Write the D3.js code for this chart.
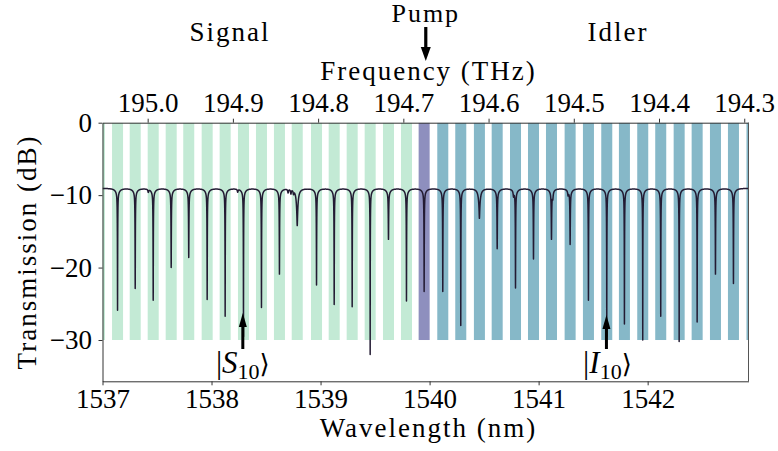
<!DOCTYPE html>
<html><head><meta charset="utf-8">
<script src="https://cdn.jsdelivr.net/npm/d3@7"></script>
<style>
body{margin:0;background:#fff}
text{font-family:"Liberation Serif","Times New Roman",serif;fill:#000}
</style>
</head><body><svg id="c" width="778" height="451"></svg>
<script>
// ---- data ----
const wavelengthDomain = [1537, 1542.925];
const frequencyDomain = [195.053, 194.295];
const transmissionDomain = [-35.7, 0];
const wavelengthTicks = [1537, 1538, 1539, 1540, 1541, 1542];
const frequencyTicks = [195.0, 194.9, 194.8, 194.7, 194.6, 194.5, 194.4, 194.3];
const transmissionTicks = [0, -10, -20, -30];

const resonanceNm = [1537.138, 1537.300, 1537.465, 1537.630, 1537.791, 1537.960, 1538.125, 1538.293,
  1538.458, 1538.623, 1538.786, 1538.963, 1539.125, 1539.290, 1539.455, 1539.623, 1539.788,
  1539.950,
  1540.121, 1540.286, 1540.457, 1540.620, 1540.788, 1540.953, 1541.118, 1541.289, 1541.457,
  1541.625, 1541.787, 1541.955, 1542.120, 1542.289, 1542.454, 1542.622, 1542.787];
const dipDepthDb = [-25.9, -22.9, -24.5, -20.0, -18.6, -24.4, -26.7, -29.5,
  -25.5, -20.9, -14.2, -22.4, -25.1, -25.4, -32.0, -16.1, -24.6,
  -23.3,
  -23.3, -28.0, -13.2, -17.4, -22.8, -18.8, -16.1, -16.8, -24.5,
  -29.5, -27.8, -30.0, -26.7, -30.2, -27.5, -20.9, -22.2];

const signalBandNm = [1536.972, 1537.138, 1537.300, 1537.465, 1537.630, 1537.791, 1537.960, 1538.125,
  1538.293, 1538.458, 1538.623, 1538.786, 1538.963, 1539.125, 1539.290, 1539.455, 1539.623, 1539.788];
const pumpBandNm = [1539.950];
const idlerBandNm = [1540.121, 1540.286, 1540.457, 1540.620, 1540.788, 1540.953, 1541.118, 1541.289,
  1541.457, 1541.625, 1541.787, 1541.955, 1542.120, 1542.289, 1542.454, 1542.622, 1542.787, 1542.957];
const bandRangeDb = [0, -30];
const bandHalfWidthNm = 0.0505;

const baselineDb = -9.05;
const broadDipDb = 0.6;
const shoulderNm = [1538.786, 1540.457];
const shoulderDb = [-12.4, -11.6];
const rippleNm = [1538.702, 1538.728, 1538.752, 1537.420, 1538.240, 1540.770, 1541.130, 1541.270];
const rippleDb = [-9.7, -9.8, -9.7, -9.6, -9.6, -9.9, -10.1, -9.8];

const pumpNm = 1539.965;
const s10Nm = 1538.287, i10Nm = 1541.622;

// ---- layout ----
const svg = d3.select("#c");
const X0 = 102.5, X1 = 748.5, Y0 = 122.7, Y1 = 381.3;
const x = d3.scaleLinear().domain(wavelengthDomain).range([X0, X1]);
const xf = d3.scaleLinear().domain(frequencyDomain).range([X0, X1]);
const y = d3.scaleLinear().domain(transmissionDomain).range([Y1, Y0]);

svg.append("clipPath").attr("id", "clip").append("rect")
  .attr("x", X0).attr("y", Y0).attr("width", X1 - X0).attr("height", Y1 - Y0);
const plot = svg.append("g").attr("clip-path", "url(#clip)");

function bands(list, color) {
  plot.append("g").selectAll("rect").data(list).enter().append("rect")
    .attr("x", d => x(d - bandHalfWidthNm))
    .attr("width", d => x(d + bandHalfWidthNm) - x(d - bandHalfWidthNm))
    .attr("y", y(bandRangeDb[0]))
    .attr("height", y(bandRangeDb[1]) - y(bandRangeDb[0]))
    .attr("fill", color);
}
bands(signalBandNm, "#c3ead5");
bands(pumpBandNm, "#8e8fbe");
bands(idlerBandNm, "#86b8c8");

// ---- spectrum built from the read resonances ----
const lor = (d, w) => 1 / (1 + (d / w) * (d / w));
function rest(l) {
  let v = baselineDb;
  resonanceNm.forEach(r => { v -= broadDipDb * lor(l - r, 0.022); });
  shoulderNm.forEach((r, k) => { v -= (-(shoulderDb[k]) - 9.65) * lor(l - r, 0.008); });
  rippleNm.forEach((r, k) => { v -= (-(rippleDb[k]) - 9.2) * lor(l - r, 0.004); });
  return v;
}
const amp = resonanceNm.map((r, i) => 1 - Math.pow(10, (dipDepthDb[i] - rest(r)) / 10));
function trans(l) {
  let v = rest(l);
  resonanceNm.forEach((r, i) => { v += 10 * Math.log10(1 - amp[i] * lor(l - r, 0.0032)); });
  return v;
}
let samples = d3.range(wavelengthDomain[0], wavelengthDomain[1] + 1e-9, 0.002);
resonanceNm.concat(shoulderNm, rippleNm).forEach(r => {
  for (let d = -0.05; d <= 0.05 + 1e-9; d += 0.0004) samples.push(r + d);
  samples.push(r);
});
samples = samples.filter(l => l >= wavelengthDomain[0] && l <= wavelengthDomain[1]).sort((a, b) => a - b);
const spectrum = samples.map(l => [l, trans(l)]);

plot.append("path").datum(spectrum)
  .attr("d", d3.line().x(d => x(d[0])).y(d => y(d[1])))
  .attr("fill", "none").attr("stroke", "#231b33").attr("stroke-width", 1.5)
  .attr("stroke-linejoin", "round");

// ---- axes ----
const fs = 27;
const gx = svg.append("g").attr("transform", `translate(0,${Y1})`)
  .call(d3.axisBottom(x).tickValues(wavelengthTicks).tickFormat(d3.format("d")).tickSize(4).tickSizeOuter(0).tickPadding(3.5));
const gt = svg.append("g").attr("transform", `translate(0,${Y0})`)
  .call(d3.axisTop(xf).tickValues(frequencyTicks).tickFormat(d3.format(".1f")).tickSize(4).tickSizeOuter(0).tickPadding(7));
const gy = svg.append("g").attr("transform", `translate(${X0},0)`)
  .call(d3.axisLeft(y).tickValues(transmissionTicks).tickFormat(d => d === 0 ? "0" : "\u2212" + Math.abs(d)).tickSize(4).tickSizeOuter(0).tickPadding(6.5));
[gx, gt, gy].forEach(g => {
  g.selectAll("text").style("font-size", fs + "px").attr("fill", "#000");
  g.selectAll("line").attr("stroke", "#333");
  g.select(".domain").attr("stroke", "#333").attr("stroke-width", 1);
});
svg.append("line").attr("x1", X1).attr("x2", X1).attr("y1", Y0).attr("y2", Y1)
  .attr("stroke", "#555").attr("stroke-width", 1);

// ---- labels ----
function label(txt, cx, cy, rot, size) {
  const t = svg.append("text").attr("text-anchor", "middle").style("font-size", (size || fs) + "px")
    .style("letter-spacing", "2px").text(txt);
  if (rot) t.attr("transform", `translate(${cx},${cy}) rotate(${rot})`);
  else t.attr("x", cx).attr("y", cy);
  return t;
}
label("Frequency (THz)", (X0 + X1) / 2 + 3, 80);
label("Wavelength (nm)", (X0 + X1) / 2 + 3, 437);
label("Transmission (dB)", 36, (Y0 + Y1) / 2, -90);
label("Signal", 230, 41);
label("Idler", 618, 41);
label("Pump", x(pumpNm), 22, null, 26);

// arrows
function arrow(cx, yTail, yTip, headLen, headW, shaftW) {
  const dir = yTip > yTail ? 1 : -1;
  const yb = yTip - dir * headLen;
  svg.append("line").attr("x1", cx).attr("x2", cx).attr("y1", yTail).attr("y2", yb)
    .attr("stroke", "#000").attr("stroke-width", shaftW);
  svg.append("path").attr("d", `M${cx - headW / 2},${yb}L${cx + headW / 2},${yb}L${cx},${yTip}Z`).attr("fill", "#000");
}
arrow(x(pumpNm), 27, 61, 14, 10, 3.2);
arrow(x(s10Nm), 349, 313, 14, 8, 3);
arrow(x(i10Nm), 349, 315, 14, 8, 3);

function ket(letter, cx, base) {
  const t = svg.append("text").attr("x", cx).attr("y", base).attr("text-anchor", "middle").style("font-size", "31px");
  t.append("tspan").style("font-weight", "300").text("|");
  t.append("tspan").style("font-style", "italic").text(letter);
  t.append("tspan").attr("dy", 6).style("font-size", "22px").text("10");
  t.append("tspan").attr("dy", -6).style("font-family", "'DejaVu Serif'").style("font-size", "26px").text("\u27E9");
}
ket("S", x(s10Nm), 373);
ket("I", x(i10Nm) + 1, 373);
</script>
</body></html>
